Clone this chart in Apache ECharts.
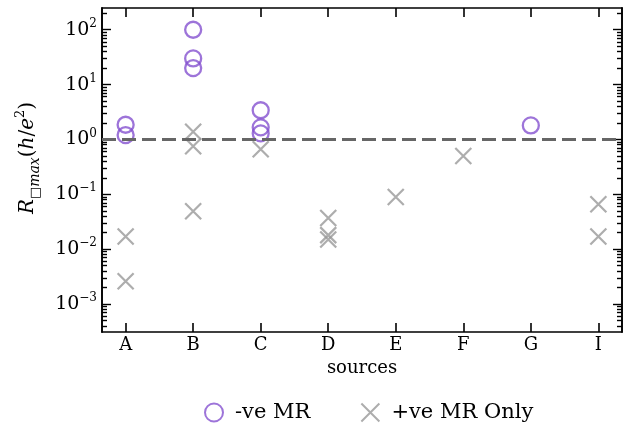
<!DOCTYPE html>
<html>
<head>
<meta charset="utf-8">
<script src="https://cdn.jsdelivr.net/npm/echarts@6/dist/echarts.min.js"></script>
<style>
  html, body { margin: 0; background: #fff; }
  #chart { width: 623px; height: 428px; }
</style>
</head>
<body>
<div id="chart"></div>
<script>
// categories on the x axis
var categories = ['A', 'B', 'C', 'D', 'E', 'F', 'G', 'I'];
// -ve MR points (circles)
var negSource = ['A', 'A', 'B', 'B', 'B', 'C', 'C', 'C', 'G'];
var negValue = [1.85, 1.2, 100, 30, 20, 3.4, 1.66, 1.29, 1.8];
// +ve MR only points (crosses)
var posSource = ['A', 'A', 'B', 'B', 'B', 'C', 'D', 'D', 'D', 'E', 'F', 'I', 'I'];
var posValue = [0.017, 0.0026, 1.38, 0.75, 0.049, 0.66, 0.037, 0.018, 0.015, 0.089, 0.5, 0.066, 0.017];
// reference level (dashed line)
var refLevel = 1;
// y ticks
var majorTicks = [1e-3, 1e-2, 1e-1, 1, 10, 100];
var minorTicks = [];
for (var d = -4; d <= 2; d++) {
  for (var m = 2; m <= 9; m++) {
    var t = m * Math.pow(10, d);
    if (t > 3.1e-4 && t < 249) minorTicks.push(+t.toPrecision(3));
  }
}
var xTicks = [0, 1, 2, 3, 4, 5, 6, 7];

var FONT = 'DejaVu Serif';
var yMin = 3.08e-4, yMax = 249;

function pts(src, val) {
  return src.map(function (s, i) { return [categories.indexOf(s), val[i]]; });
}

function xAxisOpt(pos, labels) {
  return {
    type: 'value', position: pos, min: -0.35, max: 7.35,
    splitLine: { show: false },
    axisLine: { onZero: false, lineStyle: { color: '#000', width: 1.6 } },
    axisTick: { inside: true, length: 9, customValues: xTicks, lineStyle: { color: '#000', width: 1.6 } },
    axisLabel: {
      show: labels, customValues: xTicks, margin: 4,
      fontFamily: FONT, fontSize: 18, color: '#000',
      formatter: function (v) { return categories[Math.round(v)]; }
    }
  };
}

function yAxisOpt(pos, ticks, len, labels) {
  return {
    type: 'log', position: pos, min: yMin, max: yMax,
    splitLine: { show: false },
    axisLine: { onZero: false, lineStyle: { color: '#000', width: 1.6 } },
    axisTick: { inside: true, length: len, customValues: ticks, lineStyle: { color: '#000', width: 1.4 } },
    axisLabel: {
      show: labels, customValues: ticks, margin: 5,
      formatter: function (v) {
        var e = Math.round(Math.log10(v));
        return '{b|10}{s|' + (e < 0 ? '\u2212' + (-e) : e) + '}';
      },
      rich: {
        b: { fontFamily: FONT, fontSize: 19, color: '#000', lineHeight: 24 },
        s: { fontFamily: FONT, fontSize: 12, color: '#000', lineHeight: 14, verticalAlign: 'top' }
      }
    }
  };
}

var chart = echarts.init(document.getElementById('chart'));

var yMain = yAxisOpt('left', majorTicks, 9, true);
yMain.name = '{sp| }{i|R}{sub|\u25A1}{subi|max}{n|(}{i|h}{n|/}{i|e}{sup|2}{n|)}';
yMain.nameLocation = 'middle';
yMain.nameRotate = 90;
yMain.nameGap = 60;
yMain.nameTextStyle = {
  rich: {
    i: { fontFamily: FONT, fontStyle: 'italic', fontSize: 20, color: '#000', lineHeight: 28 },
    n: { fontFamily: FONT, fontSize: 20, color: '#000', lineHeight: 28 },
    sub: { fontFamily: FONT, fontSize: 13, color: '#000', lineHeight: 14, verticalAlign: 'bottom' },
    subi: { fontFamily: FONT, fontStyle: 'italic', fontSize: 14, color: '#000', lineHeight: 14, verticalAlign: 'bottom' },
    sup: { fontFamily: FONT, fontSize: 13, color: '#000', lineHeight: 14, verticalAlign: 'top' },
    sp: { fontSize: 20, width: 24, lineHeight: 28 }
  }
};

var xMain = xAxisOpt('bottom', true);
xMain.name = 'sources';
xMain.nameLocation = 'middle';
xMain.nameGap = 24;
xMain.nameTextStyle = { fontFamily: FONT, fontSize: 18, color: '#000' };

chart.setOption({
  animation: false,
  grid: { left: 102, right: 1, top: 8, bottom: 96, outerBoundsMode: 'none' },
  legend: {
    data: ['-ve MR', '+ve MR Only'],
    left: 199, top: 397,
    itemWidth: 18, itemHeight: 18, itemGap: 50,
    textStyle: { fontFamily: FONT, fontSize: 21, color: '#000', padding: [0, 0, 0, 7] }
  },
  xAxis: [xMain, xAxisOpt('top', false)],
  yAxis: [yMain, yAxisOpt('left', minorTicks, 5, false),
          yAxisOpt('right', majorTicks, 9, false), yAxisOpt('right', minorTicks, 5, false)],
  series: [
    {
      name: '+ve MR Only', type: 'scatter', xAxisIndex: 0, yAxisIndex: 0,
      symbol: 'path://M0,0L10,10M10,0L0,10', symbolSize: 16,
      itemStyle: { color: 'rgba(0,0,0,0)', borderColor: '#999999', borderWidth: 2.2 },
      data: pts(posSource, posValue),
      markLine: {
        silent: true, symbol: ['none', 'none'], label: { show: false },
        lineStyle: { color: '#666666', width: 3.2, type: [14, 6] },
        data: [{ yAxis: refLevel }]
      }
    },
    {
      name: '-ve MR', type: 'scatter', xAxisIndex: 0, yAxisIndex: 0,
      symbol: 'circle', symbolSize: 16,
      itemStyle: { color: 'rgba(0,0,0,0)', borderColor: '#8551cf', borderWidth: 2.3 },
      data: pts(negSource, negValue)
    }
  ]
});
</script>
</body>
</html>
